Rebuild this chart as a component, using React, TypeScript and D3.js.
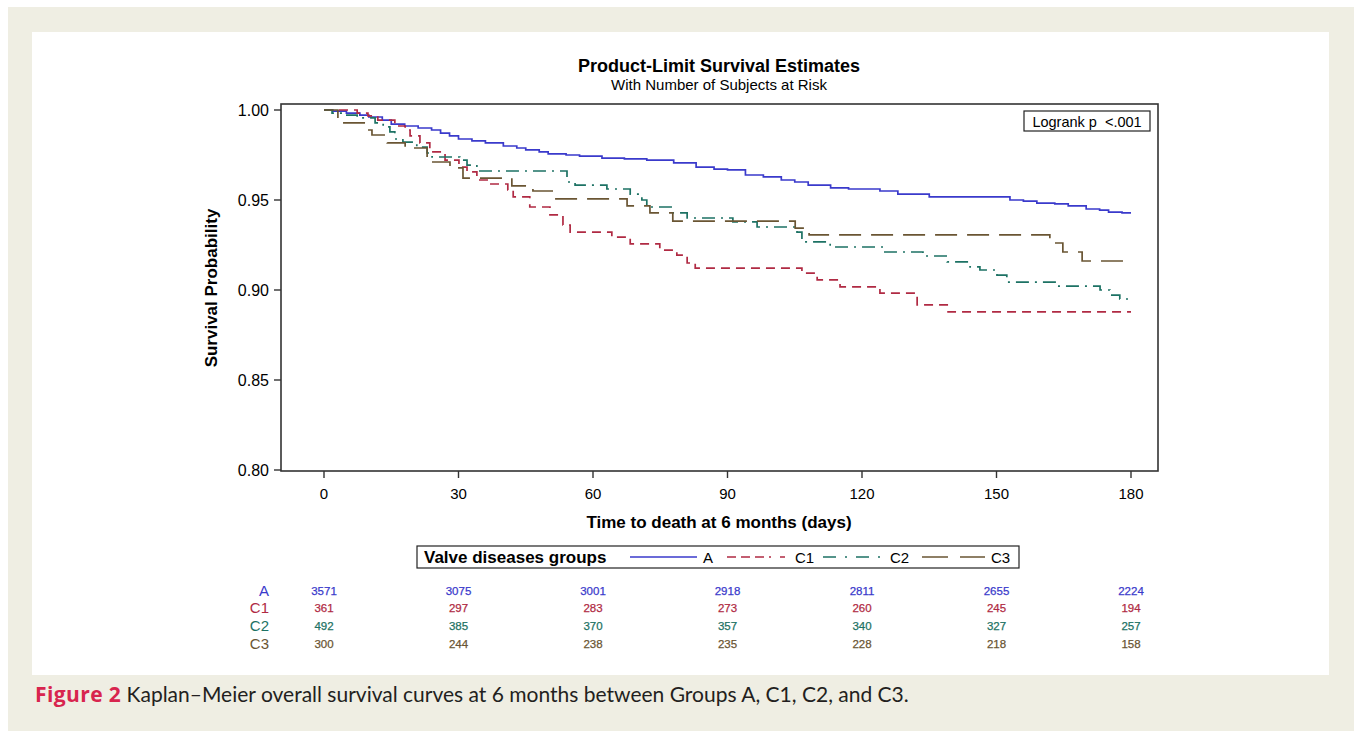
import React, { useRef, useEffect } from "react";
import * as d3 from "d3";

// Kaplan-Meier step values: [day, survival]
const groupA: [number, number][] = [
  [0, 1.0], [2, 0.9994], [5, 0.9983], [8, 0.9972], [10, 0.9961], [13, 0.9944],
  [15, 0.9922], [18, 0.9911], [21, 0.99], [24, 0.9889], [26, 0.9872], [28, 0.9856],
  [30, 0.9839], [33, 0.9828], [36, 0.9817], [40, 0.98], [43, 0.9789], [45, 0.9778],
  [48, 0.9767], [50, 0.9756], [54, 0.975], [57, 0.9744], [62, 0.9733], [67, 0.9728],
  [72, 0.9722], [78, 0.9706], [83, 0.9683], [87, 0.9672], [90, 0.9667], [94, 0.9639],
  [98, 0.9628], [102, 0.9611], [105, 0.96], [108, 0.9583], [113, 0.9567], [117, 0.9561],
  [124, 0.955], [128, 0.9533], [135, 0.9517], [153, 0.95], [156, 0.9494], [159, 0.9483],
  [163, 0.9478], [166, 0.9467], [170, 0.945], [173, 0.9444], [175, 0.9433], [178, 0.9428],
];
const groupC1: [number, number][] = [
  [0, 1.0], [7.4, 0.9983], [9.8, 0.9967], [12, 0.9944], [15.8, 0.9911], [18.1, 0.9889],
  [19.2, 0.9856], [21.4, 0.9817], [23.6, 0.9767], [27, 0.9722], [30.1, 0.9683],
  [31.9, 0.9656], [34.1, 0.9611], [36.6, 0.9589], [41, 0.9556], [42.2, 0.9517],
  [45.9, 0.9461], [50.4, 0.9417], [53.3, 0.9361], [54.9, 0.9322], [64.2, 0.9294],
  [68.3, 0.9256], [74.9, 0.9222], [78.7, 0.9194], [81, 0.915], [82.8, 0.9122],
  [106.6, 0.9094], [110, 0.9056], [115.1, 0.9017], [124, 0.8983], [132.3, 0.8917],
  [139.2, 0.8878],
];
const groupC2: [number, number][] = [
  [0, 1.0], [1.8, 0.9983], [5.1, 0.9972], [7.4, 0.9956], [11.4, 0.9928], [13.2, 0.9906],
  [14.7, 0.9878], [15.8, 0.9839], [17.6, 0.9822], [20.7, 0.9794], [23, 0.9761],
  [24.1, 0.9739], [30.3, 0.9722], [31.9, 0.9694], [34.1, 0.9661], [54.2, 0.96],
  [56, 0.9583], [63.1, 0.9561], [68.3, 0.9533], [70.9, 0.95], [72, 0.9461],
  [77.8, 0.9428], [81, 0.94], [91.2, 0.9378], [96.6, 0.935], [105.5, 0.9322],
  [106.6, 0.9267], [112.9, 0.9239], [124.7, 0.9211], [133.6, 0.9189], [139, 0.9156],
  [144.1, 0.9128], [146.3, 0.9111], [150.1, 0.9083], [152.3, 0.9044], [163.5, 0.9022],
  [173.1, 0.9], [175.3, 0.8972], [177.5, 0.895],
];
const groupC3: [number, number][] = [
  [0, 1.0], [3.1, 0.9928], [9.8, 0.9889], [10.7, 0.9861], [14.1, 0.9817], [18.1, 0.9789],
  [23, 0.9711], [28.1, 0.9678], [31, 0.9622], [41.9, 0.9578], [46.6, 0.955],
  [51.5, 0.9506], [67.6, 0.9467], [72.7, 0.9428], [77.8, 0.9383], [105.1, 0.9344],
  [108.2, 0.9306], [161.9, 0.9261], [164.8, 0.9211], [169.1, 0.9161],
];

const groupNames = ["A", "C1", "C2", "C3"];
const groupColors = ["#3a3acb", "#b02a43", "#1d7264", "#6a5533"];
const groupDash = ["", "9,6", "13,6,2,6", "22,10"];
const legendDash = ["", "9,5,9,5,9,5,2", "13,9,2,9", "26,12"];

const xTicks = [0, 30, 60, 90, 120, 150, 180];
const yTicks = [0.8, 0.85, 0.9, 0.95, 1.0];

const atRiskA = [3571, 3075, 3001, 2918, 2811, 2655, 2224];
const atRiskC1 = [361, 297, 283, 273, 260, 245, 194];
const atRiskC2 = [492, 385, 370, 357, 340, 327, 257];
const atRiskC3 = [300, 244, 238, 235, 228, 218, 158];

const font = "'Liberation Sans', Arial, sans-serif";

function App() {
  const ref = useRef<SVGSVGElement | null>(null);

  useEffect(() => {
    d3.select(ref.current).selectAll("*").remove();
    const svg = d3.select(ref.current);

    // page background
    svg.append("rect").attr("x", 8).attr("y", 7).attr("width", 1346).attr("height", 724).attr("fill", "#efeee3");
    svg.append("rect").attr("x", 32).attr("y", 32).attr("width", 1297).attr("height", 643).attr("fill", "#ffffff");

    const x = d3.scaleLinear().domain([0, 180]).range([324, 1131]);
    const y = d3.scaleLinear().domain([0.8, 1.0]).range([470, 110]);
    const left = 281, right = 1158, top = 104, bottom = 471;

    // titles
    svg.append("text").attr("x", 719).attr("y", 72).attr("text-anchor", "middle")
      .style("font-family", font).style("font-size", "18px").style("font-weight", "bold")
      .text("Product-Limit Survival Estimates");
    svg.append("text").attr("x", 719).attr("y", 90).attr("text-anchor", "middle")
      .style("font-family", font).style("font-size", "15px")
      .text("With Number of Subjects at Risk");

    // curves
    const series = [groupA, groupC1, groupC2, groupC3];
    const line = d3.line<[number, number]>()
      .x((d) => x(d[0]))
      .y((d) => y(d[1]))
      .curve(d3.curveStepAfter);

    series.forEach((s, i) => {
      const pts: [number, number][] = [...s, [180, s[s.length - 1][1]]];
      svg.append("path")
        .attr("d", line(pts))
        .attr("fill", "none")
        .attr("stroke", groupColors[i])
        .attr("stroke-width", 1.7)
        .attr("stroke-dasharray", groupDash[i] || null);
    });

    // frame
    svg.append("rect").attr("x", left).attr("y", top).attr("width", right - left).attr("height", bottom - top)
      .attr("fill", "none").attr("stroke", "#333").attr("stroke-width", 1.6);

    // y axis
    yTicks.forEach((t) => {
      svg.append("line").attr("x1", left - 7).attr("x2", left).attr("y1", y(t)).attr("y2", y(t))
        .attr("stroke", "#333").attr("stroke-width", 1.4);
      svg.append("text").attr("x", left - 12).attr("y", y(t) + 5.5).attr("text-anchor", "end")
        .style("font-family", font).style("font-size", "16px").text(t.toFixed(2));
    });
    svg.append("text").attr("transform", `translate(217, 288) rotate(-90)`).attr("text-anchor", "middle")
      .style("font-family", font).style("font-size", "17px").style("font-weight", "bold")
      .text("Survival Probability");

    // x axis
    xTicks.forEach((t) => {
      svg.append("line").attr("x1", x(t)).attr("x2", x(t)).attr("y1", bottom).attr("y2", bottom + 7)
        .attr("stroke", "#333").attr("stroke-width", 1.4);
      svg.append("text").attr("x", x(t)).attr("y", bottom + 28).attr("text-anchor", "middle")
        .style("font-family", font).style("font-size", "15px").text(t);
    });
    svg.append("text").attr("x", 719).attr("y", 528).attr("text-anchor", "middle")
      .style("font-family", font).style("font-size", "17px").style("font-weight", "bold")
      .text("Time to death at 6 months (days)");

    // logrank box
    svg.append("rect").attr("x", 1024).attr("y", 111).attr("width", 126).attr("height", 20)
      .attr("fill", "#fff").attr("stroke", "#222").attr("stroke-width", 1.2);
    svg.append("text").attr("x", 1087).attr("y", 126.5).attr("text-anchor", "middle")
      .style("font-family", font).style("font-size", "14.5px").style("white-space", "pre").text("Logrank p  <.001");

    // legend
    svg.append("rect").attr("x", 417).attr("y", 546).attr("width", 602).attr("height", 22)
      .attr("fill", "#fff").attr("stroke", "#222").attr("stroke-width", 1.2);
    svg.append("text").attr("x", 424).attr("y", 563)
      .style("font-family", font).style("font-size", "17px").style("font-weight", "bold")
      .text("Valve diseases groups");
    const legendStart = [630, 727, 823, 922];
    const legendEnd = [697, 789, 884, 985];
    groupNames.forEach((g, i) => {
      svg.append("line").attr("x1", legendStart[i]).attr("x2", legendEnd[i]).attr("y1", 557).attr("y2", 557)
        .attr("stroke", groupColors[i]).attr("stroke-width", 1.6)
        .attr("stroke-dasharray", legendDash[i] || null);
      svg.append("text").attr("x", legendEnd[i] + 6).attr("y", 563)
        .style("font-family", font).style("font-size", "15px").text(g);
    });

    // number at risk
    const risk = [atRiskA, atRiskC1, atRiskC2, atRiskC3];
    const rowY = [595, 612, 630, 648];
    risk.forEach((row, i) => {
      svg.append("text").attr("x", 269).attr("y", rowY[i] + 1).attr("text-anchor", "end")
        .style("font-family", font).style("font-size", "15px").attr("fill", groupColors[i])
        .text(groupNames[i]);
      row.forEach((v, j) => {
        svg.append("text").attr("x", x(xTicks[j])).attr("y", rowY[i]).attr("text-anchor", "middle")
          .style("font-family", font).style("font-size", "11.5px").attr("fill", groupColors[i])
          .attr("stroke", groupColors[i]).attr("stroke-width", 0.25)
          .text(v);
      });
    });

    // caption
    const cap = svg.append("text").attr("x", 35).attr("y", 702)
      .style("font-family", "Lato, 'Open Sans', sans-serif").style("font-size", "21px");
    cap.append("tspan").attr("fill", "#d8254e").style("font-weight", "bold")
      .style("font-family", "'Open Sans', Lato, sans-serif").style("letter-spacing", "0.4px")
      .text("Figure 2");
    cap.append("tspan").attr("fill", "#231f20")
      .text(" Kaplan\u2013Meier overall survival curves at 6 months between Groups A, C1, C2, and C3.");
  }, []);

  return (
    <svg
      ref={ref}
      width={1354}
      height={731}
      style={{ position: "absolute", left: 0, top: 0, display: "block", background: "#fff" }}
    ></svg>
  );
}

export default App;
